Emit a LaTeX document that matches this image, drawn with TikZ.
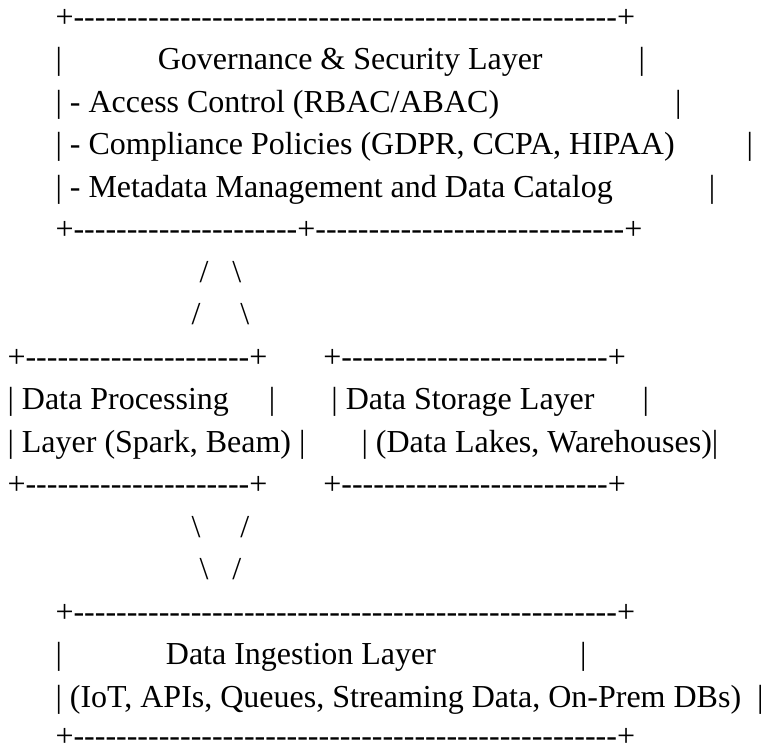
\documentclass[tikz,border=0pt]{standalone}
\usepackage{fontspec}
\newfontfamily\asciifont{Liberation Serif}
\ExplSyntaxOn
\NewDocumentCommand\dashx{m}{\prg_replicate:nn{#1}{-\kern0pt}}
\NewDocumentCommand\spx{m}{\hspace*{#1\fontdimen2\font}}
\ExplSyntaxOff
\tikzset{
  artline/.style={anchor=base west, inner sep=0pt, outer sep=0pt, text=black,
    font=\asciifont\fontsize{32}{38}\selectfont}
}
\begin{document}
\begin{tikzpicture}[x=1pt,y=-1pt]
\path[use as bounding box, fill=white] (0,0) rectangle (767,747);
\def\lx{7.5}
\node[artline] (l0)  at (\lx, 27.0)  {\spx{6}+\dashx{51}+};
\node[artline] (l1)  at (\lx, 69.5)  {\spx{6}|\spx{12}Governance \& Security Layer\spx{12}|};
\node[artline] (l2)  at (\lx, 112.0) {\spx{6}| - Access Control (RBAC/ABAC)\spx{22}|};
\node[artline] (l3)  at (\lx, 154.5) {\spx{6}| - Compliance Policies (GDPR, CCPA, HIPAA)\spx{9}|};
\node[artline] (l4)  at (\lx, 197.0) {\spx{6}| - Metadata Management and Data Catalog\spx{12}|};
\node[artline] (l5)  at (\lx, 239.5) {\spx{6}+\dashx{21}+\dashx{29}+};
\node[artline] (l6)  at (\lx, 282.0) {\spx{24}/\spx{3}\textbackslash};
\node[artline] (l7)  at (\lx, 324.5) {\spx{23}/\spx{5}\textbackslash};
\node[artline] (l8)  at (\lx, 367.0) {+\dashx{21}+\spx{7}+\dashx{25}+};
\node[artline] (l9)  at (\lx, 409.5) {| Data Processing\spx{5}|\spx{7}| Data Storage Layer\spx{6}|};
\node[artline] (l10) at (\lx, 452.0) {| Layer (Spark, Beam)\spx{1}|\spx{7}| (Data Lakes, Warehouses)|};
\node[artline] (l11) at (\lx, 494.5) {+\dashx{21}+\spx{7}+\dashx{25}+};
\node[artline] (l12) at (\lx, 537.0) {\spx{23}\textbackslash\spx{5}/};
\node[artline] (l13) at (\lx, 579.5) {\spx{24}\textbackslash\spx{3}/};
\node[artline] (l14) at (\lx, 622.0) {\spx{6}+\dashx{51}+};
\node[artline] (l15) at (\lx, 664.5) {\spx{6}|\spx{13}Data Ingestion Layer\spx{18}|};
\node[artline] (l16) at (\lx, 707.0) {\spx{6}| (IoT, APIs, Queues, Streaming Data, On-Prem DBs)\spx{2}|};
\node[artline] (l17) at (\lx, 746.5) {\raisebox{0pt}[\height][0pt]{\spx{6}+\dashx{51}+}};
\end{tikzpicture}
\end{document}
